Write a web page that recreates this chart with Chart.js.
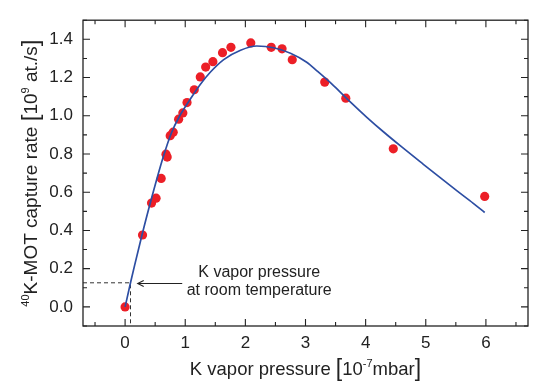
<!DOCTYPE html>
<html><head><meta charset="utf-8">
<script src="https://cdn.jsdelivr.net/npm/chart.js@4.4.1/dist/chart.umd.min.js"></script>
<style>html,body{margin:0;padding:0;background:#fff;}#wrap{width:535px;height:387px;}</style>
</head><body><div id="wrap"><canvas id="c" width="535" height="387"></canvas></div>
<script>
// measured data
const pressure    = [0.00, 0.29, 0.44, 0.515, 0.60, 0.68, 0.70, 0.75, 0.80, 0.89, 0.96, 1.03, 1.15, 1.25, 1.34, 1.46, 1.62, 1.76, 2.09, 2.43, 2.61, 2.78, 3.32, 3.67, 4.46, 5.98];
const captureRate = [0.000, 0.376, 0.543, 0.569, 0.672, 0.799, 0.784, 0.896, 0.914, 0.982, 1.015, 1.069, 1.136, 1.203, 1.255, 1.283, 1.330, 1.358, 1.381, 1.358, 1.350, 1.293, 1.176, 1.092, 0.827, 0.578];
// fit curve
const fitPressure = [0.00, 0.09, 0.16, 0.28, 0.42, 0.63, 0.77, 0.90, 1.09, 1.25, 1.42, 1.64, 1.92, 2.19, 2.47, 2.75, 3.02, 3.19, 3.47, 3.74, 4.02, 4.30, 4.58, 4.96, 5.24, 5.52, 5.79, 5.98];
const fitRate     = [0.000, 0.126, 0.220, 0.375, 0.545, 0.780, 0.910, 0.995, 1.090, 1.164, 1.229, 1.294, 1.343, 1.365, 1.356, 1.327, 1.280, 1.235, 1.157, 1.074, 0.992, 0.915, 0.842, 0.746, 0.676, 0.607, 0.542, 0.494];
// ticks
const xTickValues = [0, 1, 2, 3, 4, 5, 6];
const xTickLabels = ['0', '1', '2', '3', '4', '5', '6'];
const xMinorValues = [-0.5, 0.5, 1.5, 2.5, 3.5, 4.5, 5.5, 6.5];
const yTickValues = [0, 0.2, 0.4, 0.6, 0.8, 1.0, 1.2, 1.4];
const yTickLabels = ['0.0', '0.2', '0.4', '0.6', '0.8', '1.0', '1.2', '1.4'];
const yMinorValues = [-0.1, 0.1, 0.3, 0.5, 0.7, 0.9, 1.1, 1.3, 1.5];
// room temperature marker
const roomTempPressure = 0.09;
const roomTempRate = 0.126;
const annotationLines = ['K vapor pressure', 'at room temperature'];
const arrowFrom = 0.95, arrowTo = 0.21, arrowRate = 0.122;
const annotationCenter = 2.23, annotationRates = [0.155, 0.06];

const FONT = '"Liberation Sans", Arial, sans-serif';
const INK = '#222';

function richText(ctx, pieces, cx, base) {
  let total = 0;
  pieces.forEach(p => { ctx.font = p.size + 'px ' + FONT; p.w = ctx.measureText(p.t).width; total += p.w; });
  let x = cx - total / 2;
  pieces.forEach(p => { ctx.font = p.size + 'px ' + FONT; ctx.fillText(p.t, x, base + (p.dy || 0)); x += p.w; });
}

const decor = {
  id: 'decor',
  afterDatasetsDraw(chart) {
    const ctx = chart.ctx, a = chart.chartArea;
    const xs = chart.scales.x, ys = chart.scales.y;
    ctx.save();
    ctx.strokeStyle = '#222';
    ctx.lineWidth = 1.3;
    ctx.strokeRect(a.left, a.top, a.right - a.left, a.bottom - a.top);
    ctx.lineWidth = 1.1;
    ctx.beginPath();
    const tickX = (v, len) => { const p = xs.getPixelForValue(v); ctx.moveTo(p, a.bottom); ctx.lineTo(p, a.bottom - len); ctx.moveTo(p, a.top); ctx.lineTo(p, a.top + len); };
    const tickY = (v, len) => { const p = ys.getPixelForValue(v); ctx.moveTo(a.left, p); ctx.lineTo(a.left + len, p); ctx.moveTo(a.right, p); ctx.lineTo(a.right - len, p); };
    xTickValues.forEach(v => tickX(v, 7));
    xMinorValues.forEach(v => tickX(v, 4));
    yTickValues.forEach(v => tickY(v, 7));
    yMinorValues.forEach(v => tickY(v, 4));
    ctx.stroke();

    // annotation arrow
    const y0 = ys.getPixelForValue(arrowRate);
    const xa = xs.getPixelForValue(arrowFrom), xb = xs.getPixelForValue(arrowTo);
    ctx.strokeStyle = INK; ctx.lineWidth = 1.1;
    ctx.beginPath();
    ctx.moveTo(xa, y0); ctx.lineTo(xb, y0);
    ctx.moveTo(xb + 6, y0 - 3); ctx.lineTo(xb, y0); ctx.lineTo(xb + 6, y0 + 3);
    ctx.stroke();
    ctx.fillStyle = INK;
    ctx.font = '16px ' + FONT;
    ctx.textAlign = 'center';
    ctx.textBaseline = 'alphabetic';
    const cx = xs.getPixelForValue(annotationCenter);
    annotationLines.forEach((t, i) => ctx.fillText(t, cx, ys.getPixelForValue(annotationRates[i])));

    // axis titles
    ctx.textAlign = 'left';
    richText(ctx, [
      {t: 'K vapor pressure ', size: 18.5},
      {t: '[', size: 23, dy: 1},
      {t: '10', size: 18.5},
      {t: '-7', size: 11, dy: -8},
      {t: 'mbar', size: 18.5},
      {t: ']', size: 23, dy: 1}
    ], (a.left + a.right) / 2, 375);
    ctx.save();
    ctx.translate(37, (a.top + a.bottom) / 2);
    ctx.rotate(-Math.PI / 2);
    richText(ctx, [
      {t: '40', size: 11, dy: -8},
      {t: 'K-MOT capture rate ', size: 19},
      {t: '[', size: 24, dy: 1},
      {t: '10', size: 19},
      {t: '9', size: 11, dy: -8},
      {t: ' at./s', size: 19},
      {t: ']', size: 24, dy: 1}
    ], 0, 0);
    ctx.restore();
    ctx.restore();
  }
};

const tickFont = {family: FONT, size: 17};
new Chart(document.getElementById('c'), {
  type: 'scatter',
  data: {
    datasets: [
      {
        label: 'fit',
        data: fitPressure.map((x, i) => ({x, y: fitRate[i]})),
        showLine: true,
        borderColor: '#2d4ea3',
        borderWidth: 1.7,
        pointRadius: 0,
        cubicInterpolationMode: 'monotone',
        order: 0
      },
      {
        label: 'data',
        data: pressure.map((x, i) => ({x, y: captureRate[i]})),
        showLine: false,
        pointRadius: 4.6,
        pointBackgroundColor: '#ec1f27',
        pointBorderWidth: 0,
        order: 1
      },
      {
        label: 'room',
        data: [{x: -0.7, y: roomTempRate}, {x: roomTempPressure, y: roomTempRate}, {x: roomTempPressure, y: -0.1}],
        showLine: true,
        borderColor: '#333',
        borderWidth: 1,
        borderDash: [4, 3],
        pointRadius: 0,
        order: 2
      }
    ]
  },
  options: {
    responsive: false,
    devicePixelRatio: 1,
    animation: false,
    layout: {padding: {left: 0, right: 7, top: 1, bottom: 0}},
    plugins: {legend: {display: false}, tooltip: {enabled: false}},
    scales: {
      x: {
        type: 'linear', min: -0.7, max: 6.7,
        grid: {display: false, drawTicks: false},
        border: {display: false},
        afterBuildTicks: s => { s.ticks = xTickValues.map(v => ({value: v})); },
        afterFit: s => { s.height = 61; },
        ticks: {font: tickFont, color: INK, padding: 7, maxRotation: 0, callback: (v, i) => xTickLabels[i]}
      },
      y: {
        type: 'linear', min: -0.1, max: 1.5,
        grid: {display: false, drawTicks: false},
        border: {display: false},
        afterBuildTicks: s => { s.ticks = yTickValues.map(v => ({value: v})); },
        afterFit: s => { s.width = 83; },
        ticks: {font: tickFont, color: INK, padding: 10, callback: (v, i) => yTickLabels[i]}
      }
    }
  },
  plugins: [decor]
});
</script>
</body></html>
